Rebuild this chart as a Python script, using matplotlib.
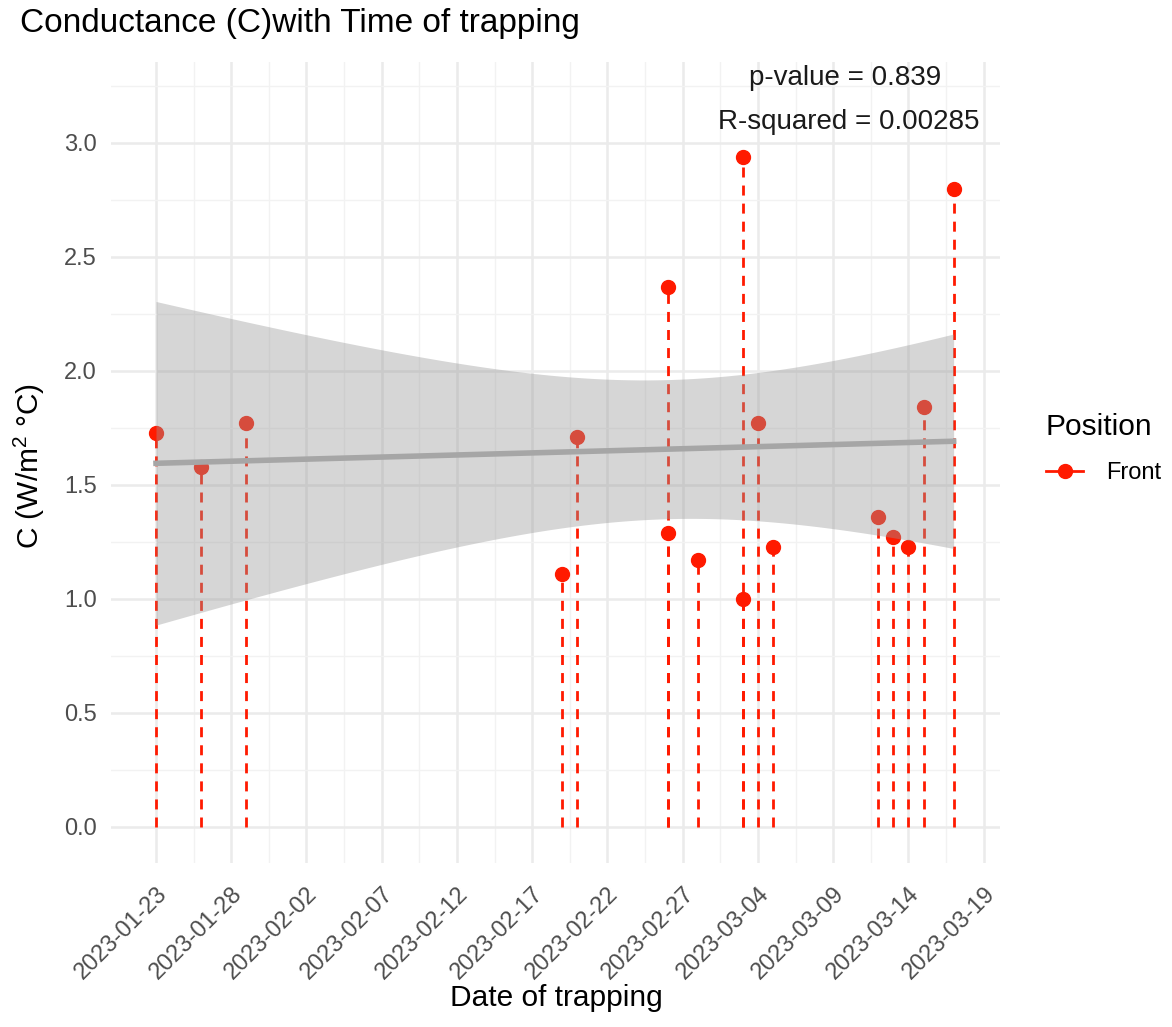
import numpy as np
import matplotlib
matplotlib.use("Agg")
import matplotlib.pyplot as plt
import matplotlib.dates as mdates
from matplotlib.lines import Line2D

plt.rcParams['font.family'] = ['Liberation Sans', 'DejaVu Sans']
plt.rcParams['mathtext.fontset'] = 'custom'
plt.rcParams['mathtext.rm'] = 'Liberation Sans'

dates = np.array(['2023-01-23', '2023-01-26', '2023-01-29', '2023-02-19', '2023-02-20',
                  '2023-02-26', '2023-02-26', '2023-02-28', '2023-03-03', '2023-03-03',
                  '2023-03-04', '2023-03-05', '2023-03-12', '2023-03-13', '2023-03-14',
                  '2023-03-15', '2023-03-17'], dtype='datetime64[D]')
conductance = np.array([1.73, 1.58, 1.77, 1.11, 1.71,
                        2.37, 1.29, 1.17, 2.94, 1.00,
                        1.77, 1.23, 1.36, 1.27, 1.23,
                        1.84, 2.80])
tick_dates = np.arange(np.datetime64('2023-01-23'), np.datetime64('2023-03-20'), 5)
p_text = "p-value = 0.839"
r2_text = "R-squared = 0.00285"

x = mdates.date2num(dates.astype('datetime64[s]').astype(object))

fig = plt.figure(figsize=(11.72, 10.27), dpi=100)
ax = fig.add_axes([111/1172, 1-863/1027, 889/1172, 801/1027])

red = '#ff1a00'
# dashed stems down to zero, then the points
ax.vlines(x, 0, conductance, colors=red, linestyles=(0, (3.6, 2.9)), lw=2, zorder=2)
ax.plot(x, conductance, 'o', color=red, ms=10, zorder=3)

# linear fit with 95% confidence band
n = len(x)
slope, icpt = np.polyfit(x, conductance, 1)
xs = np.linspace(x.min(), x.max(), 100)
ys = icpt + slope * xs
resid = conductance - (icpt + slope * x)
s = np.sqrt(np.sum(resid**2) / (n - 2))
sxx = np.sum((x - x.mean())**2)
se = s * np.sqrt(1/n + (xs - x.mean())**2 / sxx)
t = 2.131  # t(0.975, df=15)
ax.fill_between(xs, ys - t*se, ys + t*se, color='#999999', alpha=0.4, lw=0, zorder=4)
ax.plot(xs, ys, color='#a6a6a6', lw=4, zorder=5)

x0 = x.min()
ax.set_xlim(x0 - 2.99, x0 + 56.08)
ax.set_ylim(-0.158, 3.355)

ticks = mdates.date2num(tick_dates.astype('datetime64[s]').astype(object))
ax.set_xticks(ticks)
ax.set_xticklabels([str(d) for d in tick_dates], rotation=45, ha='right', va='top',
                   rotation_mode='anchor', fontsize=17, color='#4d4d4d')
ax.set_xticks((ticks[:-1] + ticks[1:]) / 2, minor=True)
yt = np.arange(0, 3.01, 0.5)
ax.set_yticks(yt)
ax.set_yticklabels([f"{v:.1f}" for v in yt], fontsize=17, color='#4d4d4d')
ax.set_yticks(np.arange(0.25, 3.3, 0.5), minor=True)
ax.tick_params(which='both', length=0)
ax.tick_params(axis='y', pad=10)
ax.tick_params(axis='x', pad=14)

ax.grid(which='major', color='#ebebeb', lw=1.8, zorder=0)
ax.grid(which='minor', color='#f2f2f2', lw=1.0, zorder=0)
ax.set_axisbelow(True)
for sp in ax.spines.values():
    sp.set_visible(False)

ax.set_xlabel("Date of trapping", fontsize=21.5)
ax.xaxis.set_label_coords(0.5006, -0.151)
ax.set_ylabel(r"C (W/m$^2$ °C)", fontsize=21.5)
ax.yaxis.set_label_coords(-0.072, 0.496)
fig.text(20/1172, 1-32/1027, "Conductance (C)with Time of trapping", fontsize=24,
         ha='left', va='baseline')

ax.text(x0 + 45.8, 3.285, p_text, ha='center', va='center', fontsize=20, color='#1a1a1a')
ax.text(x0 + 46.0, 3.092, r2_text, ha='center', va='center', fontsize=20, color='#1a1a1a')

handle = Line2D([], [], color=red, marker='o', ms=10, lw=2)
leg = fig.legend([handle], ['Front'], loc='upper left', bbox_to_anchor=(1046/1172, 1-413/1027),
                 title='Position', frameon=False, fontsize=17, title_fontsize=21.5,
                 handlelength=1.57, handletextpad=0.97, labelspacing=0.9,
                 borderpad=0, borderaxespad=0)
leg._legend_box.align = 'left'

fig.savefig('out.png', dpi=100)
